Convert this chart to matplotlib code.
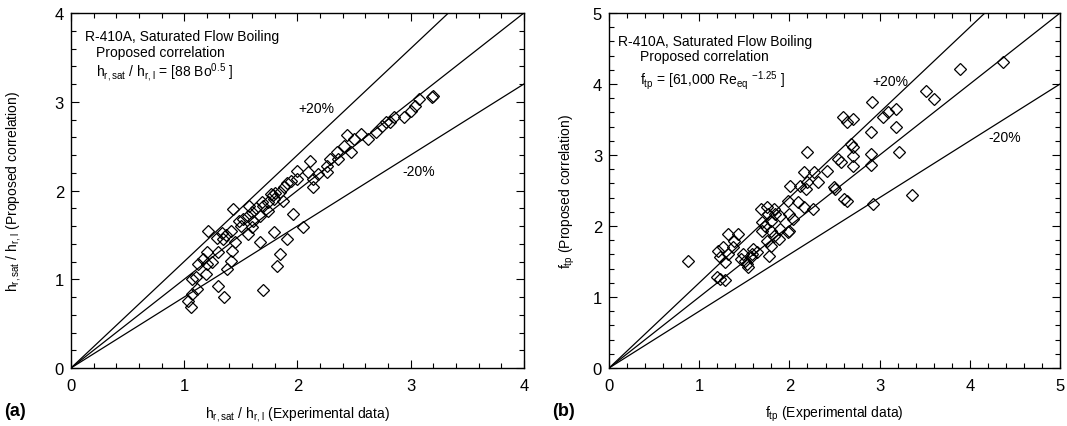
import matplotlib
matplotlib.use("Agg")
import matplotlib.pyplot as plt
from matplotlib.ticker import MultipleLocator
import numpy as np

plt.rcParams['font.family'] = ['Liberation Sans', 'DejaVu Sans']
plt.rcParams['mathtext.default'] = 'regular'

# (a) heat transfer ratio: experimental vs proposed correlation
a_exp = [1.03, 1.06, 1.07, 1.07, 1.10, 1.11, 1.12, 1.17, 1.19, 1.20, 1.20, 1.21,
         1.25, 1.30, 1.30, 1.35, 1.29, 1.33, 1.37, 1.41, 1.34, 1.38, 1.41, 1.42,
         1.43, 1.45, 1.48, 1.50, 1.52, 1.56, 1.56, 1.57, 1.60, 1.60, 1.61, 1.63,
         1.67, 1.67, 1.69, 1.70, 1.70, 1.74, 1.74, 1.77, 1.78, 1.79, 1.79, 1.80,
         1.82, 1.85, 1.85, 1.87, 1.88, 1.91, 1.91, 1.94, 1.96, 2.00, 2.00, 2.05,
         2.09, 2.11, 2.14, 2.14, 2.18, 2.26, 2.26, 2.29, 2.35, 2.36, 2.41, 2.44,
         2.47, 2.50, 2.56, 2.62, 2.69, 2.75, 2.78, 2.82, 2.85, 2.94, 3.00, 3.04,
         3.07, 3.19, 3.20]
a_pred = [0.75, 0.69, 0.83, 1.00, 1.02, 0.89, 1.17, 1.23, 1.06, 1.17, 1.31, 1.54,
          1.20, 1.31, 0.92, 0.80, 1.47, 1.52, 1.50, 1.54, 1.45, 1.12, 1.21, 1.32,
          1.79, 1.42, 1.66, 1.60, 1.68, 1.51, 1.71, 1.83, 1.59, 1.76, 1.66, 1.80,
          1.71, 1.42, 1.87, 0.88, 1.83, 1.77, 1.87, 1.96, 1.95, 1.53, 1.90, 1.97,
          1.15, 1.28, 1.98, 1.88, 2.04, 1.45, 2.09, 2.11, 1.74, 2.22, 2.13, 1.59,
          2.21, 2.33, 2.13, 2.04, 2.19, 2.21, 2.28, 2.35, 2.43, 2.35, 2.50, 2.62,
          2.43, 2.58, 2.64, 2.58, 2.66, 2.73, 2.77, 2.77, 2.83, 2.83, 2.90, 2.95,
          3.03, 3.05, 3.06]

# (b) two-phase friction factor: experimental vs proposed correlation
b_exp = [0.87, 1.20, 1.23, 1.28, 1.21, 1.26, 1.23, 1.29, 1.32, 1.38, 1.43, 1.37,
         1.32, 1.46, 1.48, 1.51, 1.53, 1.54, 1.57, 1.59, 1.60, 1.64, 1.68, 1.70,
         1.70, 1.73, 1.75, 1.75, 1.76, 1.77, 1.79, 1.79, 1.79, 1.83, 1.83, 1.84,
         1.88, 1.90, 1.90, 1.98, 1.98, 1.99, 1.99, 2.01, 2.04, 2.10, 2.12, 2.16,
         2.16, 2.18, 2.20, 2.20, 2.26, 2.27, 2.32, 2.42, 2.49, 2.51, 2.54, 2.57,
         2.59, 2.60, 2.64, 2.64, 2.68, 2.70, 2.70, 2.70, 2.71, 2.90, 2.90, 2.90,
         2.92, 2.93, 3.04, 3.09, 3.18, 3.18, 3.21, 3.36, 3.51, 3.60, 3.89, 4.37]
b_pred = [1.51, 1.28, 1.25, 1.24, 1.65, 1.70, 1.56, 1.49, 1.89, 1.79, 1.89, 1.70,
          1.61, 1.54, 1.61, 1.51, 1.46, 1.42, 1.56, 1.61, 1.68, 1.63, 2.24, 2.05,
          1.93, 2.00, 2.27, 1.79, 2.17, 1.58, 2.07, 1.93, 1.72, 2.24, 1.86, 2.17,
          1.82, 1.96, 2.14, 2.35, 1.92, 2.17, 1.93, 2.56, 2.10, 2.34, 2.56, 2.27,
          2.76, 2.52, 2.62, 3.04, 2.24, 2.76, 2.62, 2.77, 2.55, 2.52, 2.94, 2.90,
          3.53, 2.38, 2.35, 3.46, 3.15, 3.11, 3.51, 2.84, 2.99, 3.32, 3.01, 2.86,
          3.75, 2.31, 3.53, 3.61, 3.65, 3.39, 3.04, 2.44, 3.90, 3.79, 4.21, 4.31]

bands = [1.2, 1.0, 0.8]

fig = plt.figure(figsize=(10.67, 4.27), dpi=100)
ax1 = fig.add_axes([0.0665, 0.1358, 0.4245, 0.8314])
ax2 = fig.add_axes([0.5708, 0.1358, 0.4227, 0.8314])

fs = 10


def setup(ax, lim, exp, pred):
    xs = np.array([0, lim])
    for k in bands:
        ax.plot(xs, k * xs, color='black', lw=0.9)
    ax.plot(exp, pred, linestyle='none', marker='D', ms=6.5, mfc='none',
            mec='black', mew=0.9)
    ax.set_xlim(0, lim)
    ax.set_ylim(0, lim)
    ax.xaxis.set_major_locator(MultipleLocator(1))
    ax.yaxis.set_major_locator(MultipleLocator(1))
    ax.xaxis.set_minor_locator(MultipleLocator(0.2))
    ax.yaxis.set_minor_locator(MultipleLocator(0.2))
    ax.tick_params(which='both', direction='in', top=True, right=True,
                   labelsize=12, width=0.8)
    ax.tick_params(which='major', length=6)
    ax.tick_params(axis='x', which='major', pad=7)
    ax.tick_params(axis='y', which='major', pad=5)
    ax.tick_params(which='minor', length=3.5)
    for s in ax.spines.values():
        s.set_linewidth(1.0)


setup(ax1, 4, a_exp, a_pred)
setup(ax2, 5, b_exp, b_pred)

ax1.set_xlabel(r'$h_{r,sat}$ / $h_{r,l}$ (Experimental data)', fontsize=fs)
ax1.set_ylabel(r'$h_{r,sat}$ / $h_{r,l}$ (Proposed correlation)', fontsize=fs)
ax2.set_xlabel(r'$f_{tp}$ (Experimental data)', fontsize=fs)
ax2.set_ylabel(r'$f_{tp}$ (Proposed correlation)', fontsize=fs)
ax1.xaxis.set_label_coords(0.5, -0.1)
ax2.xaxis.set_label_coords(0.5, -0.1)
ax1.yaxis.set_label_coords(-0.105, 0.5)
ax2.yaxis.set_label_coords(-0.072, 0.5)

ax1.text(0.03, 0.935, 'R-410A, Saturated Flow Boiling', transform=ax1.transAxes,
         fontsize=fs, va='center')
ax1.text(0.055, 0.891, 'Proposed correlation', transform=ax1.transAxes,
         fontsize=fs, va='center')
ax1.text(0.055, 0.834, r'$h_{r,sat}$ / $h_{r,l}$ = [88 Bo$^{0.5}$ ]',
         transform=ax1.transAxes, fontsize=fs, va='center')
ax1.text(2.17, 2.93, '+20%', fontsize=fs, ha='center', va='center')
ax1.text(3.07, 2.22, '-20%', fontsize=fs, ha='center', va='center')

ax2.text(0.02, 0.92, 'R-410A, Saturated Flow Boiling', transform=ax2.transAxes,
         fontsize=fs, va='center')
ax2.text(0.068, 0.878, 'Proposed correlation', transform=ax2.transAxes,
         fontsize=fs, va='center')
ax2.text(0.068, 0.813, r'$f_{tp}$ = [61,000 Re$_{eq}$ $^{-1.25}$ ]',
         transform=ax2.transAxes, fontsize=fs, va='center')
ax2.text(3.12, 4.04, '+20%', fontsize=fs, ha='center', va='center')
ax2.text(4.39, 3.25, '-20%', fontsize=fs, ha='center', va='center')

fig.text(0.004, 0.037, '(a)', fontsize=13, fontweight='bold', va='center')
fig.text(0.517, 0.037, '(b)', fontsize=13, fontweight='bold', va='center')

fig.savefig('out.png', dpi=100)
